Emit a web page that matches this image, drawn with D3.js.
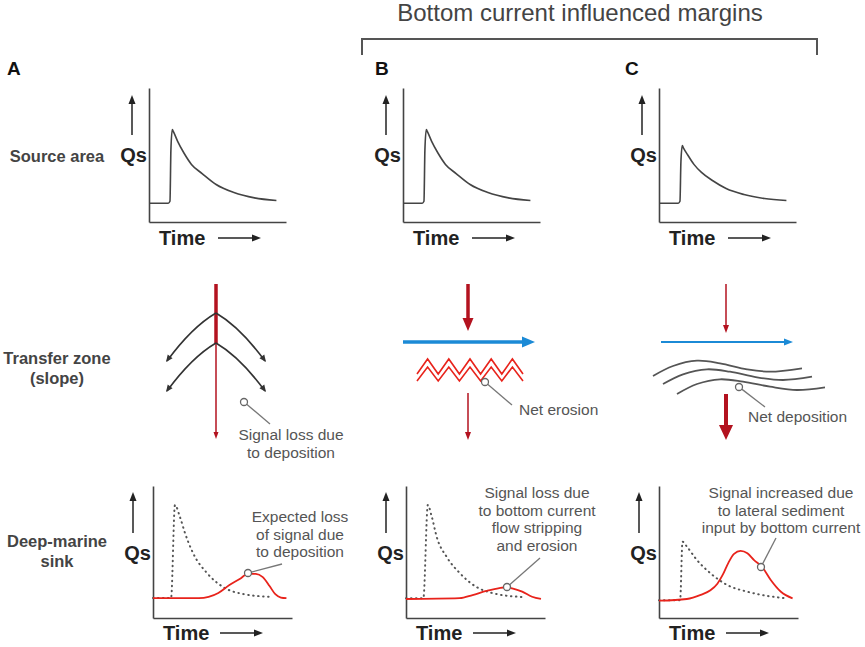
<!DOCTYPE html>
<html>
<head>
<meta charset="utf-8">
<script src="https://cdn.jsdelivr.net/npm/d3@7"></script>
<style>
  body { margin: 0; background: #fff; }
  svg { display: block; font-family: "Liberation Sans", Arial, sans-serif; }
</style>
</head>
<body>
<div id="chart"></div>
<script>
// ---- chart content ----
const panelLetters = ["A", "B", "C"];
const rowLabels = [["Source area"], ["Transfer zone", "(slope)"], ["Deep-marine", "sink"]];
const headerText = "Bottom current influenced margins";
const axisLabels = ["Qs", "Time"];

// source-area hydrographs, [time %, Qs %]
const sourceAB = [[0, 14], [14, 14], [15.3, 15.5], [16, 54], [17, 69], [18, 67], [21, 60], [25.5, 51.5],
  [31, 43], [39, 36], [49, 28], [62, 22], [77, 18], [93, 16]];
const sourceC = [[0, 14], [14, 14], [15.3, 15.5], [16, 45], [17, 57], [18, 55], [21, 50], [25.5, 43],
  [31, 37], [39, 31], [49, 25], [62, 20.5], [77, 17.5], [93, 16]];

// deep-marine sink: expected (dotted) and observed (red) signals
const sinkExpectedA = [[0, 15.2], [13, 15.2], [15.8, 85.6], [19.4, 76.5], [23, 64.4], [28.8, 49.2],
  [38.8, 34.1], [50.4, 23.5], [64.7, 18.2], [86.3, 15.9]];
const sinkObservedA = [[0, 15], [33, 15], [40, 16], [47, 19], [55, 25], [63, 30], [68, 33.5], [74, 33.5],
  [79, 31], [84, 24], [88, 18], [92, 15.5], [96, 15]];
const sinkExpectedB = [[0, 15], [12.5, 15], [15.7, 85.6], [18.6, 76.5], [22.1, 61.4], [29.3, 46.2],
  [38.6, 34.1], [50.7, 23.5], [62.1, 18.9], [83.6, 15.9]];
const sinkObservedB = [[0, 14.4], [38.6, 15], [47.9, 17.4], [57.9, 20.5], [67.1, 22.7], [72.1, 23.3],
  [76.4, 22.5], [83.6, 20], [90.7, 16.1], [97.1, 14.4]];
const sinkExpectedC = [[0, 13.5], [15.2, 13.5], [16.9, 57.8], [20.1, 54], [27.3, 43.9], [37, 33.9],
  [49.1, 25], [63.6, 19.9], [78, 16.7], [92.5, 14.9]];
const sinkObservedC = [[0, 13.1], [20, 14.4], [30, 17.5], [37, 21], [42, 26], [46, 33], [50, 42],
  [54, 48.6], [58.7, 50.8], [63.6, 49], [68.4, 43.9], [74.4, 38.4], [80.4, 28.8], [87.7, 19.9], [96.1, 14.9]];

const sinkNotes = [
  ["Expected loss", "of signal due", "to deposition"],
  ["Signal loss due", "to bottom current", "flow stripping", "and erosion"],
  ["Signal increased due", "to lateral sediment", "input by bottom current"]
];
const transferNotes = [["Signal loss due", "to deposition"], ["Net erosion"], ["Net deposition"]];

// ---- layout ----
const W = 865, H = 647;
const sourceX = [149, 403, 659], sinkX = [153, 406, 659];
const letterX = [7, 375, 625];
const src = { top: 88, bottom: 222, w: 137 };
const snk = { top: 486, bottom: 618, w: 139 };

const grey = "#444", noteGrey = "#555", darkRed = "#b3121f", red = "#e8231b", blue = "#1b8ad6";

const svg = d3.select("#chart").append("svg")
  .attr("width", W).attr("height", H).attr("viewBox", `0 0 ${W} ${H}`);

// generic straight arrow with filled head
function arrow(g, x1, y1, x2, y2, color, width, head, headW) {
  const a = Math.atan2(y2 - y1, x2 - x1);
  const bx = x2 - head * Math.cos(a), by = y2 - head * Math.sin(a);
  g.append("line")
    .attr("x1", x1).attr("y1", y1)
    .attr("x2", bx + Math.cos(a)).attr("y2", by + Math.sin(a))
    .attr("stroke", color).attr("stroke-width", width);
  arrowHead(g, x2, y2, a, color, head, headW);
}
function arrowHead(g, x, y, a, color, head, headW) {
  const bx = x - head * Math.cos(a), by = y - head * Math.sin(a);
  g.append("path")
    .attr("d", `M${x},${y}L${bx + headW * Math.sin(a)},${by - headW * Math.cos(a)}` +
      `L${bx - headW * Math.sin(a)},${by + headW * Math.cos(a)}Z`)
    .attr("fill", color);
}
function callout(g, cx, cy, x2, y2) {
  const a = Math.atan2(y2 - cy, x2 - cx);
  g.append("line")
    .attr("x1", cx + 3.5 * Math.cos(a)).attr("y1", cy + 3.5 * Math.sin(a))
    .attr("x2", x2).attr("y2", y2)
    .attr("stroke", "#777").attr("stroke-width", 1.3);
  g.append("circle").attr("cx", cx).attr("cy", cy).attr("r", 3.5)
    .attr("fill", "#fff").attr("stroke", "#666").attr("stroke-width", 1.3);
}
function lines(g, x, y0, dy, texts, anchor) {
  const t = g.append("text").attr("text-anchor", anchor).attr("fill", noteGrey).attr("font-size", 15.5);
  texts.forEach((s, i) => t.append("tspan").attr("x", x).attr("y", y0 + i * dy).text(s));
}

// ---- header and bracket ----
svg.append("text").attr("x", 580).attr("y", 21).attr("text-anchor", "middle")
  .attr("font-size", 24).attr("fill", grey).text(headerText);
svg.append("path").attr("d", "M362,55V39H817V55")
  .attr("fill", "none").attr("stroke", "#555").attr("stroke-width", 2);

panelLetters.forEach((l, i) => {
  svg.append("text").attr("x", letterX[i]).attr("y", 75)
    .attr("font-size", 19).attr("font-weight", "bold").attr("fill", "#111").text(l);
});

// ---- row labels ----
const rowY = [162, 364, 547];
rowLabels.forEach((r, i) => {
  const t = svg.append("text").attr("text-anchor", "middle").attr("font-size", 16.5)
    .attr("font-weight", "bold").attr("fill", grey);
  r.forEach((s, j) => t.append("tspan").attr("x", 57).attr("y", rowY[i] + j * 20).text(s));
});

// ---- small Qs/Time plots ----
function plot(x0, box, solid, dashed, qsY, timeY, upArrow) {
  const g = svg.append("g");
  const x = d3.scaleLinear().domain([0, 100]).range([x0, x0 + box.w]);
  const y = d3.scaleLinear().domain([0, 100]).range([box.bottom, box.top]);
  const line = d3.line().x(d => x(d[0])).y(d => y(d[1])).curve(d3.curveMonotoneX);

  g.append("g").attr("transform", `translate(0,${box.bottom})`)
    .call(d3.axisBottom(x).tickValues([]).tickSizeOuter(0));
  g.append("g").attr("transform", `translate(${x0},0)`)
    .call(d3.axisLeft(y).tickValues([]).tickSizeOuter(0));
  g.selectAll(".domain").attr("stroke", grey).attr("stroke-width", 1.6);

  if (dashed) {
    g.append("path").datum(dashed).attr("d", line).attr("fill", "none")
      .attr("stroke", "#555").attr("stroke-width", 2)
      .attr("stroke-dasharray", "0.5,4.5").attr("stroke-linecap", "round");
  }
  g.append("path").datum(solid).attr("d", line).attr("fill", "none")
    .attr("stroke", dashed ? red : grey).attr("stroke-width", dashed ? 1.8 : 1.6);

  g.append("text").attr("x", x0 - 2).attr("y", qsY).attr("text-anchor", "end")
    .attr("font-size", 20).attr("font-weight", "bold").attr("fill", "#222").text(axisLabels[0]);
  g.append("text").attr("x", x0 + 10).attr("y", timeY)
    .attr("font-size", 20).attr("font-weight", "bold").attr("fill", "#222").text(axisLabels[1]);
  arrow(g, x0 + upArrow[0], timeY - 7, x0 + upArrow[0] + 43, timeY - 7, "#222", 1.5, 9, 3.5);
  arrow(g, x0 - upArrow[1], upArrow[2], x0 - upArrow[1], upArrow[3], "#222", 1.5, 9, 3.5);
  return { x, y };
}

const sources = [sourceAB, sourceAB, sourceC];
const sinksSolid = [sinkObservedA, sinkObservedB, sinkObservedC];
const sinksDashed = [sinkExpectedA, sinkExpectedB, sinkExpectedC];

sources.forEach((s, i) => plot(sourceX[i], src, s, null, 162, 245, [69, 17, 135, 95]));
sinksSolid.forEach((s, i) => plot(sinkX[i], snk, s, sinksDashed[i], 560, 640, [67, 20, 533, 492]));

// ---- sink callouts ----
const sinkCallout = [[248, 573, 282, 564], [507, 587, 540, 558], [761, 567, 776, 538]];
const sinkNoteX = [300, 537, 781], sinkNoteY = [522, 498, 498];
sinkNotes.forEach((n, i) => {
  const c = sinkCallout[i];
  callout(svg, c[0], c[1], c[2], c[3]);
  lines(svg, sinkNoteX[i], sinkNoteY[i], 17.7, n, "middle");
});

// ---- transfer zone A: deposition fans ----
const tA = svg.append("g");
tA.append("line").attr("x1", 216).attr("y1", 284).attr("x2", 216).attr("y2", 344)
  .attr("stroke", darkRed).attr("stroke-width", 3.5);
arrow(tA, 216, 343, 216, 439, darkRed, 1.5, 7, 2.5);
[313, 343].forEach(oy => {
  [-1, 1].forEach(s => {
    const ex = 216 + s * 49, ey = oy + 48, cx = 216 + s * 24, cy = oy + 14;
    tA.append("path").attr("d", `M216,${oy}Q${cx},${cy} ${ex},${ey}`)
      .attr("fill", "none").attr("stroke", "#333").attr("stroke-width", 1.6);
    arrowHead(tA, ex + s * 1, ey + 1, Math.atan2(ey - cy, ex - cx), "#333", 7, 3);
  });
});
callout(tA, 244, 402, 270, 424);
lines(tA, 291, 440, 17.5, transferNotes[0], "middle");

// ---- transfer zone B: erosion ----
const tB = svg.append("g");
arrow(tB, 468, 284, 468, 331, darkRed, 3.5, 13, 5.5);
arrow(tB, 403, 342, 535, 342, blue, 3.5, 13, 5.5);
const zig = d3.range(11).map(k => [417 + k * 10.6, k % 2 === 0 ? 1 : 0]);
[[359, 374], [367, 381]].forEach(([pk, vl]) => {
  tB.append("path").datum(zig)
    .attr("d", d3.line().x(d => d[0]).y(d => d[1] ? vl : pk))
    .attr("fill", "none").attr("stroke", red).attr("stroke-width", 1.6);
});
arrow(tB, 468, 393, 468, 440, darkRed, 1.5, 8, 3);
callout(tB, 485, 382, 512, 405);
lines(tB, 519, 415, 17.5, transferNotes[1], "start");

// ---- transfer zone C: deposition ----
const tC = svg.append("g");
arrow(tC, 726, 284, 726, 333, darkRed, 1.5, 8, 3);
arrow(tC, 661, 342, 793, 342, blue, 2, 9, 3.5);
const waves = [
  [[653, 376], [673, 366], [697, 360.7], [720, 363.3], [747, 369.3], [770, 371.7], [802, 368.3]],
  [[663, 384], [683, 374.3], [707, 369.3], [730, 371.7], [757, 377.3], [783, 380], [812, 376.7]],
  [[677, 394], [697, 384], [720, 379.3], [743, 381.7], [770, 386.7], [797, 390], [825, 387.3]]
];
waves.forEach(w => {
  tC.append("path").datum(w)
    .attr("d", d3.line().curve(d3.curveCatmullRom))
    .attr("fill", "none").attr("stroke", "#555").attr("stroke-width", 1.8);
});
arrow(tC, 726, 394, 726, 440, darkRed, 4, 15, 7);
callout(tC, 739, 387, 765, 407);
lines(tC, 748, 422, 17.5, transferNotes[2], "start");
</script>
</body>
</html>
